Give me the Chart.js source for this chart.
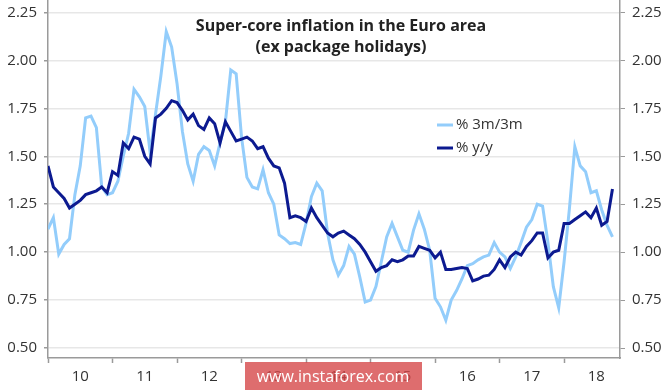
<!DOCTYPE html>
<html>
<head>
<meta charset="utf-8">
<script src="https://cdn.jsdelivr.net/npm/chart.js@4.4.1/dist/chart.umd.min.js"></script>
<style>
  html, body { margin: 0; padding: 0; background: #fff; }
  #grafico { display: block; }
</style>
</head>
<body>
<canvas id="grafico" width="665" height="392"></canvas>
<script>
// monthly data, Jan 2010 .. Oct 2018
const years = ['10', '11', '12', '13', '14', '15', '16', '17', '18'];
const yTicks = [0.50, 0.75, 1.00, 1.25, 1.50, 1.75, 2.00, 2.25];
const titleLines = ['Super-core inflation in the Euro area', '(ex package holidays)'];
const legendLabels = ['% 3m/3m', '% y/y'];

const serie3m = [
  1.12, 1.18, 0.99, 1.04, 1.07, 1.30, 1.45, 1.70, 1.71, 1.65,
  1.34, 1.30, 1.31, 1.37, 1.50, 1.62, 1.85, 1.81, 1.76, 1.52,
  1.72, 1.92, 2.15, 2.07, 1.88, 1.63, 1.46, 1.37, 1.51, 1.55,
  1.53, 1.45, 1.57, 1.68, 1.95, 1.93, 1.60, 1.39, 1.34, 1.33,
  1.43, 1.31, 1.25, 1.09, 1.07, 1.045, 1.05, 1.04, 1.15, 1.29,
  1.36, 1.32, 1.10, 0.96, 0.88, 0.93, 1.03, 0.99, 0.87, 0.74,
  0.75, 0.82, 0.95, 1.08, 1.15, 1.08, 1.01, 1.00, 1.115, 1.20,
  1.12, 1.01, 0.76, 0.715, 0.645, 0.75, 0.80, 0.86, 0.93, 0.94,
  0.96, 0.975, 0.985, 1.05, 1.00, 0.975, 0.915, 0.975, 1.05, 1.13,
  1.17, 1.25, 1.24, 1.05, 0.82, 0.71, 0.95, 1.23, 1.55, 1.45,
  1.42, 1.31, 1.32, 1.22, 1.14, 1.08
];

const serieYoY = [
  1.45, 1.34, 1.31, 1.28, 1.23, 1.25, 1.27, 1.30, 1.31, 1.32,
  1.34, 1.31, 1.42, 1.40, 1.57, 1.54, 1.60, 1.59, 1.50, 1.46,
  1.70, 1.72, 1.75, 1.79, 1.78, 1.74, 1.69, 1.72, 1.66, 1.64,
  1.70, 1.67, 1.57, 1.68, 1.63, 1.58, 1.59, 1.60, 1.58, 1.54,
  1.55, 1.49, 1.45, 1.44, 1.36, 1.18, 1.19, 1.18, 1.16, 1.23,
  1.18, 1.14, 1.10, 1.08, 1.10, 1.11, 1.09, 1.07, 1.04, 1.00,
  0.95, 0.90, 0.92, 0.93, 0.96, 0.95, 0.96, 0.98, 0.98, 1.03,
  1.02, 1.01, 0.97, 1.00, 0.91, 0.91, 0.915, 0.92, 0.915, 0.85,
  0.86, 0.875, 0.88, 0.91, 0.96, 0.92, 0.975, 1.00, 0.985, 1.03,
  1.06, 1.10, 1.10, 0.97, 1.00, 1.01, 1.15, 1.15, 1.17, 1.19,
  1.21, 1.18, 1.23, 1.14, 1.16, 1.33
];

const AZUL_CLARO = '#93cdfb';
const AZUL_OSCURO = '#0c1a90';
const GRIS_EJE = '#9a9a9a';
const TEXTO = '#333333';
const fuenteTicks = { family: 'Open Sans', size: 15 };

const toPoints = arr => arr.map((v, i) => ({ x: i, y: v }));

// fixed axis sizes, no extra padding for the edge labels
const fijarEje = (ancho, alto) => s => {
  if (ancho !== null) s.width = ancho;
  if (alto !== null) s.height = alto;
  s.paddingTop = 0;
  s.paddingBottom = 0;
  s.paddingLeft = 0;
  s.paddingRight = 0;
};

// title, legend and watermark drawn inside the plot area
const extras = {
  id: 'extras',
  afterDatasetsDraw(chart) {
    const ctx = chart.ctx;
    ctx.save();
    ctx.fillStyle = '#222';
    ctx.textAlign = 'center';
    ctx.textBaseline = 'middle';
    ctx.font = 'bold 16px "Open Sans"';
    ctx.fillText(titleLines[0], 341, 26);
    ctx.fillText(titleLines[1], 341, 47);

    const colores = [AZUL_CLARO, AZUL_OSCURO];
    ctx.font = '15px "Open Sans"';
    ctx.textAlign = 'left';
    legendLabels.forEach((txt, i) => {
      const y = 125 + i * 23;
      ctx.strokeStyle = colores[i];
      ctx.lineWidth = 3;
      ctx.beginPath();
      ctx.moveTo(437, y);
      ctx.lineTo(453, y);
      ctx.stroke();
      ctx.fillStyle = TEXTO;
      ctx.fillText(txt, 456, y);
    });
    ctx.restore();
  },
  afterDraw(chart) {
    const ctx = chart.ctx;
    ctx.save();
    ctx.fillStyle = 'rgba(214, 72, 74, 0.8)';
    ctx.fillRect(245, 362, 177, 28);
    ctx.fillStyle = '#fff';
    ctx.font = '16px "Open Sans"';
    ctx.textAlign = 'center';
    ctx.textBaseline = 'middle';
    ctx.fillText('www.instaforex.com', 333, 377);
    ctx.restore();
  }
};

new Chart(document.getElementById('grafico'), {
  type: 'line',
  data: {
    datasets: [
      {
        label: legendLabels[0],
        data: toPoints(serie3m),
        borderColor: AZUL_CLARO,
        borderWidth: 3,
        pointRadius: 0,
        tension: 0,
        order: 2,
        yAxisID: 'y'
      },
      {
        label: legendLabels[1],
        data: toPoints(serieYoY),
        borderColor: AZUL_OSCURO,
        borderWidth: 3,
        pointRadius: 0,
        tension: 0,
        order: 1,
        yAxisID: 'y'
      }
    ]
  },
  options: {
    responsive: false,
    animation: false,
    layout: { padding: { top: 1, left: 0, right: 0, bottom: 0 } },
    plugins: {
      legend: { display: false },
      tooltip: { enabled: false }
    },
    scales: {
      x: {
        type: 'linear',
        min: 0,
        max: 106.4,
        afterBuildTicks: s => {
          s.ticks = [];
          for (let m = 0; m <= 102; m += 6) s.ticks.push({ value: m });
        },
        ticks: {
          autoSkip: false,
          maxRotation: 0,
          padding: 5,
          color: TEXTO,
          font: fuenteTicks,
          callback: v => (v % 12 === 6 ? years[(v - 6) / 12] : '')
        },
        grid: {
          drawOnChartArea: false,
          tickLength: 5,
          tickWidth: 1.5,
          tickColor: c => (c.tick && c.tick.value % 12 === 0 ? GRIS_EJE : 'rgba(0,0,0,0)')
        },
        border: { display: true, color: GRIS_EJE, width: 1.5 },
        afterFit: fijarEje(null, 34)
      },
      y: {
        position: 'left',
        min: 0.448,
        max: 2.31,
        afterBuildTicks: s => { s.ticks = yTicks.map(v => ({ value: v })); },
        ticks: {
          padding: 7,
          color: TEXTO,
          font: fuenteTicks,
          callback: v => v.toFixed(2)
        },
        grid: {
          color: '#e7e7e7',
          lineWidth: 1.5,
          tickLength: 4,
          tickColor: GRIS_EJE
        },
        border: { display: true, color: GRIS_EJE, width: 1.5 },
        afterFit: fijarEje(48, null)
      },
      y2: {
        position: 'right',
        min: 0.448,
        max: 2.31,
        afterBuildTicks: s => { s.ticks = yTicks.map(v => ({ value: v })); },
        ticks: {
          padding: 7,
          color: TEXTO,
          font: fuenteTicks,
          callback: v => v.toFixed(2)
        },
        grid: {
          drawOnChartArea: false,
          tickLength: 5,
          tickColor: GRIS_EJE
        },
        border: { display: true, color: GRIS_EJE, width: 1.5 },
        afterFit: fijarEje(45, null)
      }
    }
  },
  plugins: [extras]
});
</script>
</body>
</html>
